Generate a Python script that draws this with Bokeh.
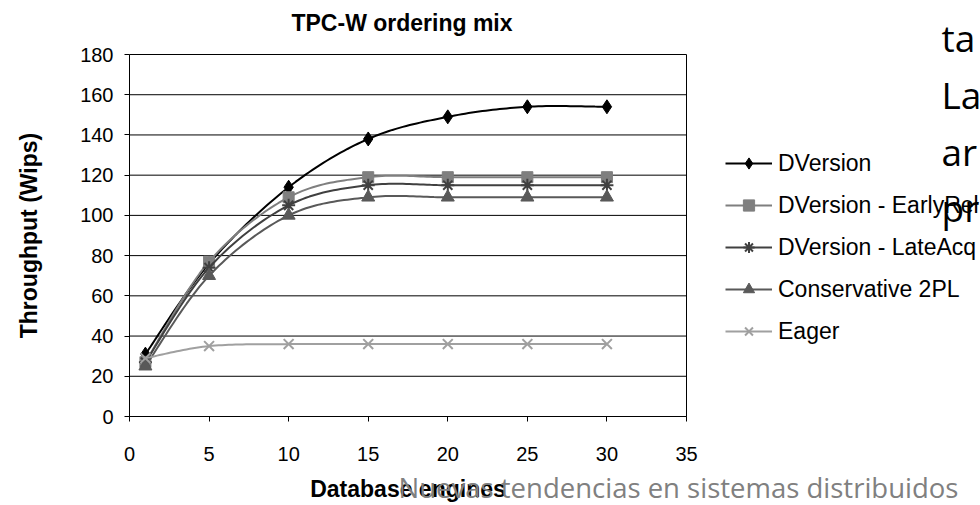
import numpy as np
from bokeh.plotting import figure
from bokeh.models import Label, Legend, LegendItem, FixedTicker, Range1d
from bokeh.embed import file_html
from bokeh.resources import INLINE

# ---- data ----
engines = [1, 5, 10, 15, 20, 25, 30]
dversion = [31, 76, 114, 138, 149, 154, 154]
early_rel = [27, 77, 109, 119, 119, 119, 119]
late_acq = [27, 74, 105, 115, 115, 115, 115]
cons_2pl = [25, 70, 100, 109, 109, 109, 109]
eager = [29, 35, 36, 36, 36, 36, 36]
series_names = ["DVersion", "DVersion - EarlyRel", "DVersion - LateAcq", "Conservative 2PL", "Eager"]
x_ticks = [0, 5, 10, 15, 20, 25, 30, 35]
y_ticks = [0, 20, 40, 60, 80, 100, 120, 140, 160, 180]
X_MIN, X_MAX = 0, 35
Y_MIN, Y_MAX = 0, 180

# ---- layout (pixels) ----
W, H = 980, 505
PX_L, PX_R, PX_T, PX_B = 129, 686, 54, 416
kx = (PX_R - PX_L) / (X_MAX - X_MIN)
ky = (PX_B - PX_T) / (Y_MAX - Y_MIN)
FONT = "Liberation Sans"


def smooth(xs, ys, n=24):
    pts = np.column_stack([xs, ys]).astype(float)
    out = [pts[0]]
    m = len(pts)
    for i in range(m - 1):
        p0 = pts[i - 1] if i > 0 else pts[i]
        p1 = pts[i]
        p2 = pts[i + 1]
        p3 = pts[i + 2] if i + 2 < m else pts[i + 1]
        c1 = p1 + (p2 - p0) / 6.0
        c2 = p2 - (p3 - p1) / 6.0
        t = np.linspace(0, 1, n)[1:, None]
        seg = ((1 - t) ** 3) * p1 + 3 * ((1 - t) ** 2) * t * c1 + 3 * (1 - t) * t ** 2 * c2 + t ** 3 * p2
        out.extend(seg)
    out = np.array(out)
    return out[:, 0], out[:, 1]


p = figure(width=W, height=H, output_backend="svg", toolbar_location=None,
           x_range=Range1d(X_MIN - PX_L / kx, X_MIN + (W - PX_L) / kx),
           y_range=Range1d(Y_MIN - (H - PX_B) / ky, Y_MIN + PX_B / ky),
           min_border=0)
p.title.visible = False
p.outline_line_color = None
p.background_fill_color = "white"
p.border_fill_color = "white"
p.xgrid.visible = False
p.ygrid.visible = False

p.xaxis.ticker = FixedTicker(ticks=x_ticks)
p.yaxis.ticker = FixedTicker(ticks=y_ticks)
p.xaxis.fixed_location = Y_MIN
p.yaxis.fixed_location = X_MIN
p.xaxis.bounds = (X_MIN, X_MAX)
p.yaxis.bounds = (Y_MIN, Y_MAX)
for ax in (p.xaxis, p.yaxis):
    ax.axis_line_color = "black"
    ax.axis_line_width = 1
    ax.major_tick_line_color = "black"
    ax.major_tick_out = 5
    ax.major_tick_in = 0
    ax.minor_tick_line_color = None
    ax.major_label_text_font = FONT
    ax.major_label_text_font_size = "20px"
    ax.major_label_text_color = "black"
    ax.axis_label_text_font = FONT
    ax.axis_label_text_font_style = "bold"
    ax.axis_label_text_font_size = "23px"
    ax.axis_label_text_color = "black"
p.xaxis.major_label_standoff = 25
p.yaxis.major_label_standoff = 11
p.xaxis.axis_label = "Database engines"
p.yaxis.axis_label = "Throughput (Wips)"
p.xaxis.axis_label_standoff = 12
p.yaxis.axis_label_standoff = 35

# horizontal gridlines and plot-area box
p.segment(x0=[X_MIN] * len(y_ticks), x1=[X_MAX] * len(y_ticks), y0=y_ticks, y1=y_ticks,
          line_color="black", line_width=1)
p.segment(x0=[X_MAX], x1=[X_MAX], y0=[Y_MIN], y1=[Y_MAX], line_color="black", line_width=1)

styles = [
    (dversion, "#000000", "diamond", 14),
    (early_rel, "#7f7f7f", "square", 11),
    (late_acq, "#404040", "asterisk", 13),
    (cons_2pl, "#595959", "triangle", 13),
    (eager, "#a0a0a0", "x", 14),
]
items = []
for (ys, col, mk, sz), name in zip(styles, series_names):
    sx, sy = smooth(engines, ys)
    r_line = p.line(sx, sy, line_color=col, line_width=2)
    if mk in ("asterisk", "x"):
        r_mk = p.scatter(engines, ys, marker=mk, size=sz, line_color=col, line_width=2)
    else:
        r_mk = p.scatter(engines, ys, marker=mk, size=sz, fill_color=col, line_color=col)
    items.append(LegendItem(label=name, renderers=[r_line, r_mk]))

ROW0, PITCH, ROWH = 163, 42, 28
leg_bottom = ROW0 - ROWH / 2 + (len(items) - 1) * PITCH + ROWH
legend = Legend(items=items, location=(725, H - leg_bottom), padding=0, margin=0,
                glyph_width=47, glyph_height=ROWH, label_height=ROWH, spacing=PITCH - ROWH,
                label_standoff=6, border_line_color=None, background_fill_alpha=0,
                label_text_font=FONT, label_text_font_size="23px", label_text_color="black",
                label_text_baseline="middle")
p.add_layout(legend, "center")

# chart title
p.add_layout(Label(x=(PX_L + PX_R) / 2 - 6, y=H - 22, x_units="screen", y_units="screen",
                   text="TPC-W ordering mix", text_font=FONT, text_font_style="bold",
                   text_font_size="23px", text_color="black", text_align="center",
                   text_baseline="middle"))

# slide text around the chart
for txt, base in [("ta", 37), ("La", 94), ("ar", 151), ("pr", 207)]:
    p.add_layout(Label(x=941, y=H - base, x_units="screen", y_units="screen", text=txt,
                       text_font="Open Sans", text_font_size="37px", text_color="black",
                       text_baseline="alphabetic"))

p.add_layout(Label(x=398, y=H - 487, x_units="screen", y_units="screen",
                   text="Nuevas tendencias en sistemas distribuidos", text_font="Open Sans",
                   text_font_size="27.5px", text_color="#808080", text_baseline="alphabetic"))

open("out.html", "w").write(file_html(p, INLINE))
